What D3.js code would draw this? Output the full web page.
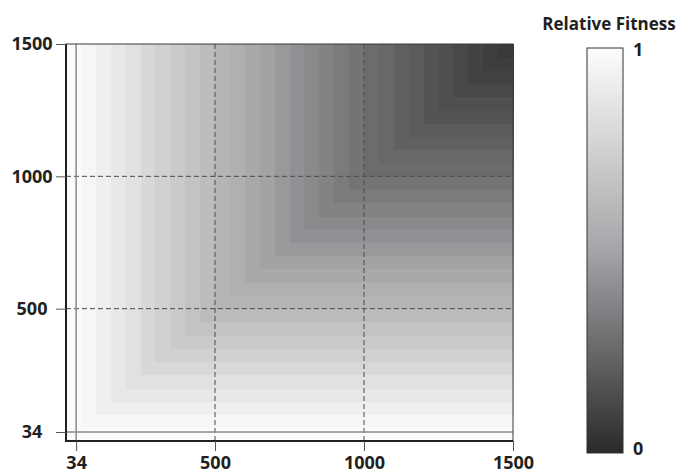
<!DOCTYPE html>
<html>
<head>
<meta charset="utf-8">
<script src="https://cdn.jsdelivr.net/npm/d3@7"></script>
<style>
  body { margin: 0; background: #fff; }
  text { font-family: "Open Sans", sans-serif; font-weight: bold; fill: #231f20; }
</style>
</head>
<body>
<svg id="chart" width="681" height="473"></svg>
<script>
"use strict";

// band edges (generations), each band is 50 wide
var bandEdges = [0, 50, 100, 150, 200, 250, 300, 350, 400, 450, 500, 550, 600, 650, 700,
    750, 800, 850, 900, 950, 1000, 1050, 1100, 1150, 1200, 1250, 1300, 1350, 1400, 1450, 1500];
var fitness = [0.99, 0.96, 0.92, 0.88, 0.84, 0.79, 0.75, 0.71, 0.67, 0.63,
    0.59, 0.56, 0.52, 0.49, 0.45, 0.42, 0.39, 0.36, 0.33, 0.30,
    0.27, 0.25, 0.22, 0.20, 0.17, 0.15, 0.12, 0.10, 0.08, 0.06];
var tickVals = [34, 500, 1000, 1500];
var gridVals = [500, 1000];
var markVal = 34;

var svg = d3.select("#chart");

var x = d3.scaleLinear().domain([0, 1500]).range([66, 513]);
var y = d3.scaleLinear().domain([0, 1500]).range([441, 44]);

var color = d3.scaleLinear()
    .domain([0, 0.5, 1])
    .range(["#2a2a2a", "#a3a5a8", "#fdfdfd"]);

// cells
var cells = [];
for (var i = 0; i < fitness.length; i++) {
    for (var j = 0; j < fitness.length; j++) {
        cells.push({ i: i, j: j, v: fitness[Math.min(i, j)] });
    }
}

svg.append("g")
    .selectAll("rect")
    .data(cells)
    .enter()
    .append("rect")
    .attr("x", d => x(bandEdges[d.i]))
    .attr("y", d => y(bandEdges[d.j + 1]))
    .attr("width", d => x(bandEdges[d.i + 1]) - x(bandEdges[d.i]) + 0.5)
    .attr("height", d => y(bandEdges[d.j]) - y(bandEdges[d.j + 1]) + 0.5)
    .attr("fill", d => color(d.v))
    .attr("shape-rendering", "crispEdges");

// dashed grid
var grid = svg.append("g")
    .attr("stroke", "#4a4a4a")
    .attr("stroke-width", 1)
    .attr("stroke-dasharray", "5,3");
grid.selectAll("line.h")
    .data(gridVals)
    .enter()
    .append("line")
    .attr("class", "h")
    .attr("x1", x(0)).attr("x2", x(1500))
    .attr("y1", d => y(d)).attr("y2", d => y(d));
grid.selectAll("line.v")
    .data(gridVals)
    .enter()
    .append("line")
    .attr("class", "v")
    .attr("y1", y(0)).attr("y2", y(1500))
    .attr("x1", d => x(d)).attr("x2", d => x(d));

// grey lines at 34
svg.append("line")
    .attr("x1", x(0)).attr("x2", x(1500))
    .attr("y1", y(markVal)).attr("y2", y(markVal))
    .attr("stroke", "#8a8a8a").attr("stroke-width", 1.5);
svg.append("line")
    .attr("y1", y(0)).attr("y2", y(1500))
    .attr("x1", x(markVal)).attr("x2", x(markVal))
    .attr("stroke", "#8a8a8a").attr("stroke-width", 1.5);

// frame
svg.append("rect")
    .attr("x", x(0)).attr("y", y(1500))
    .attr("width", x(1500) - x(0)).attr("height", y(0) - y(1500))
    .attr("fill", "none").attr("stroke", "#3a3a3a").attr("stroke-width", 1);
svg.append("path")
    .attr("d", "M" + x(0) + "," + y(1500) + "V" + y(0) + "H" + x(1500))
    .attr("fill", "none").attr("stroke", "#231f20").attr("stroke-width", 2);

// axes
var yAxis = svg.append("g")
    .attr("transform", "translate(" + x(0) + ",0)")
    .call(d3.axisLeft(y).tickValues(tickVals).tickSize(10).tickPadding(3).tickFormat(d3.format("d")));
var xAxis = svg.append("g")
    .attr("transform", "translate(0," + y(0) + ")")
    .call(d3.axisBottom(x).tickValues(tickVals).tickSize(10).tickPadding(5).tickFormat(d3.format("d")));

[yAxis, xAxis].forEach(function (a) {
    a.select(".domain").remove();
    a.selectAll(".tick line").attr("stroke", "#555").attr("stroke-width", 1);
    a.selectAll(".tick text")
        .style("font-size", "18px")
        .style("font-family", "'Open Sans', sans-serif")
        .style("font-weight", "bold")
        .attr("fill", "#231f20");
});
// y labels are centred in the left margin
yAxis.selectAll(".tick text")
    .attr("text-anchor", "middle")
    .attr("x", 32 - x(0));

// colour bar
var cb = { x: 587, y: 48, w: 36, h: 405 };
var defs = svg.append("defs");
var grad = defs.append("linearGradient")
    .attr("id", "cbGrad")
    .attr("x1", "0").attr("y1", "1").attr("x2", "0").attr("y2", "0");
d3.range(0, 1.01, 0.1).forEach(function (t) {
    grad.append("stop").attr("offset", t).attr("stop-color", color(t));
});

var cbScale = d3.scaleLinear().domain([0, 1]).range([cb.y + cb.h, cb.y]);

svg.append("rect")
    .attr("x", cb.x).attr("y", cbScale(1))
    .attr("width", cb.w).attr("height", cbScale(0) - cbScale(1))
    .attr("fill", "url(#cbGrad)")
    .attr("stroke", "#333").attr("stroke-width", 1);

svg.selectAll("text.cbl")
    .data([0, 1])
    .enter()
    .append("text")
    .attr("class", "cbl")
    .attr("x", cb.x + cb.w + 10)
    .attr("y", d => d === 1 ? cbScale(d) + 8 : cbScale(d) + 2)
    .style("font-size", "18px")
    .text(d => d);

svg.append("text")
    .attr("x", 609)
    .attr("y", 30)
    .attr("text-anchor", "middle")
    .style("font-size", "17px")
    .text("Relative Fitness");
</script>
</body>
</html>
